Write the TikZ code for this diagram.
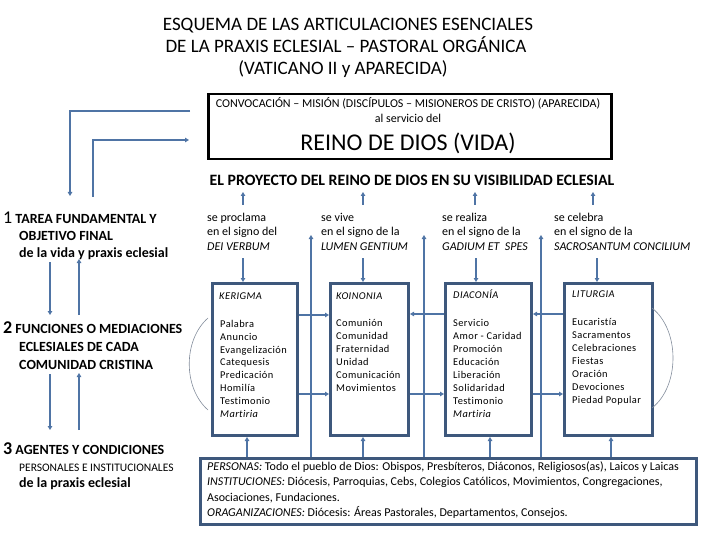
\documentclass[tikz,border=0pt]{standalone}
\usepackage{fontspec}
\setmainfont{Carlito}[Ligatures=CommonOff]
\usetikzlibrary{arrows.meta}
\definecolor{arrowc}{RGB}{79,116,165}
\definecolor{boxc}{RGB}{62,88,124}
\definecolor{arcc}{RGB}{130,140,155}
\tikzset{
  fbox/.style={draw=boxc, line width=3pt, minimum width=#1, minimum height=152pt, anchor=north west, inner sep=0pt},
  tx/.style={anchor=base west, inner sep=0pt, font=\fontsize{12}{13}\selectfont},
  txi/.style={anchor=base west, inner sep=0pt, font=\fontsize{12}{13}\selectfont\itshape},
  it/.style={anchor=base west, inner sep=0pt, font=\fontsize{10.4}{13}\selectfont\addfontfeatures{LetterSpace=4}\itshape},
  item/.style={anchor=base west, inner sep=0pt, font=\fontsize{10.4}{13}\selectfont\addfontfeatures{LetterSpace=4}},
  lab/.style={anchor=base west, inner sep=0pt, font=\fontsize{14}{15}\selectfont\bfseries},
  ttl/.style={anchor=base, inner sep=0pt, font=\fontsize{19}{20}\selectfont},
  btx/.style={anchor=base west, inner sep=0pt, font=\fontsize{12}{13}\selectfont},
  conn/.style={draw=arrowc, line width=1.5pt},
  arr/.style={conn, -{Triangle[length=4pt,width=4.5pt]}},
  arcline/.style={draw=arcc, line width=0.6pt}
}
\begin{document}
\begin{tikzpicture}[x=1pt,y=-1pt]
\useasboundingbox (0,0) rectangle (720,540);
% title
\node[ttl] (t1) at (348,30.5) {ESQUEMA DE LAS ARTICULACIONES ESENCIALES};
\node[ttl] (t2) at (346,52.5) {DE LA PRAXIS ECLESIAL -- PASTORAL ORGÁNICA};
\node[ttl] (t3) at (343,74.5) {(VATICANO II y APARECIDA)};
% top box
\node[draw=black, line width=2.5pt, minimum width=403pt, minimum height=65pt, anchor=north west, inner sep=0pt] (top) at (207,93) {};
\node[anchor=base, inner sep=0pt, font=\fontsize{12}{13}\selectfont] (c1) at (408,108) {CONVOCACIÓN -- MISIÓN (DISCÍPULOS -- MISIONEROS DE CRISTO) (APARECIDA)};
\node[anchor=base, inner sep=0pt, font=\fontsize{12}{13}\selectfont] (c2) at (408,122.5) {al servicio del};
\node[anchor=base, inner sep=0pt, font=\fontsize{24}{26}\selectfont] (c3) at (408,151) {REINO DE DIOS (VIDA)};
% heading
\node[anchor=base, inner sep=0pt, font=\fontsize{15.8}{17}\selectfont\bfseries] (head) at (412,185.5) {EL PROYECTO DEL REINO DE DIOS EN SU VISIBILIDAD ECLESIAL};
% columns
\node[tx] (p1) at (207,221.5) {se proclama};
\node[tx] (p2) at (207,236) {en el signo del};
\node[txi] (p3) at (207,250.5) {DEI VERBUM};
\node[tx] (v1) at (321,221.5) {se vive};
\node[tx] (v2) at (321,236) {en el signo de la};
\node[txi] (v3) at (321,250.5) {LUMEN GENTIUM};
\node[tx] (r1) at (442,221.5) {se realiza};
\node[tx] (r2) at (442,236) {en el signo de la};
\node[txi] (r3) at (442,250.5) {GADIUM ET~ SPES};
\node[tx] (s1) at (554,221.5) {se celebra};
\node[tx] (s2) at (554,236) {en el signo de la};
\node[txi] (s3) at (554,250.5) {SACROSANTUM CONCILIUM};
% up arrows to heading
\foreach \x/\n in {243/a,363/b,475/c,593/d}{
  \coordinate (up\n) at (\x,205);
  \draw[arr] (up\n) -- (\x,192);
}
% boxes
\node[fbox=85pt] (ker) at (211,282) {};
\node[fbox=78pt] (koi) at (329,282) {};
\node[fbox=86pt] (dia) at (444,282) {};
\node[fbox=88pt] (lit) at (563,282) {};
% down arrows into boxes
\draw[arr] (243,258) -- (243,0 |- ker.north);
\draw[arr] (363,258) -- (363,0 |- koi.north);
\draw[arr] (476,258) -- (476,0 |- dia.north);
\draw[arr] (597,258) -- (597,0 |- lit.north);
% box contents
\node[it] (kh) at (219,299) {KERIGMA};
\node[it] (oh) at (336,299) {KOINONIA};
\node[it] (dh) at (453,298) {DIACONÍA};
\node[it] (lh) at (572,297.5) {LITURGIA};
\foreach \t [count=\i] in {Palabra,Anuncio,Evangelización,Catequesis,Predicación,Homilía,Testimonio}
  \node[item] at (220,{327.5+12.8*(\i-1)}) {\t};
\node[it] at (220,417) {Martiria};
\foreach \t [count=\i] in {Comunión,Comunidad,Fraternidad,Unidad,Comunicación,Movimientos}
  \node[item] at (336,{326.5+13*(\i-1)}) {\t};
\foreach \t [count=\i] in {Servicio,Amor - Caridad,Promoción,Educación,Liberación,Solidaridad,Testimonio}
  \node[item] at (453,{326+13*(\i-1)}) {\t};
\node[it] at (453,417) {Martiria};
\foreach \t [count=\i] in {Eucaristía,Sacramentos,Celebraciones,Fiestas,Oración,Devociones,Piedad Popular}
  \node[item] at (572,{325+13*(\i-1)}) {\t};
% arcs
\draw[arcline] (208,318) .. controls (183,340) and (183,388) .. (208,410);
\draw[arcline] (652,308) .. controls (680,330) and (680,386) .. (652,408);
% horizontal arrows between boxes
\draw[arr] (ker.east |- 0,315) -- (koi.west |- 0,315);
\draw[arr] (ker.east |- 0,394) -- (koi.west |- 0,394);
\draw[arr] (dia.west |- 0,314) -- (koi.east |- 0,314);
\draw[arr] (koi.east |- 0,394) -- (dia.west |- 0,394);
\draw[arr] (lit.west |- 0,314) -- (dia.east |- 0,314);
\draw[arr] (dia.east |- 0,394) -- (lit.west |- 0,394);
% bottom box
\node[draw=boxc, line width=3pt, minimum width=496pt, minimum height=66pt, anchor=north west, inner sep=0pt] (bot) at (199,457) {};
\node[btx] (b1) at (207,470.5) {\textit{PERSONAS:} Todo el pueblo de Dios: Obispos, Presbíteros, Diáconos, Religiosos(as), Laicos y Laicas};
\node[btx] (b2) at (207,485.5) {\textit{INSTITUCIONES:} Diócesis, Parroquias, Cebs, Colegios Católicos, Movimientos, Congregaciones,};
\node[btx] (b3) at (207,501) {Asociaciones, Fundaciones.};
\node[btx] (b4) at (207,516) {\textit{ORAGANIZACIONES:} Diócesis: Áreas Pastorales, Departamentos, Consejos.};
% vertical long arrows from bottom box upward
\draw[arr] (311,0 |- bot.north) -- (311,235);
\draw[arr] (424,0 |- bot.north) -- (424,235);
\draw[arr] (541,0 |- bot.north) -- (541,235);
% up arrows from bottom box to boxes
\draw[arr] (247,0 |- bot.north) -- (247,0 |- ker.south);
\draw[arr] (363,0 |- bot.north) -- (363,0 |- koi.south);
\draw[arr] (490,0 |- bot.north) -- (490,0 |- dia.south);
\draw[arr] (611,0 |- bot.north) -- (611,0 |- lit.south);
% left labels
\node[lab] (l1) at (3,223.5) {{\fontsize{18}{18}\selectfont\mdseries 1} TAREA FUNDAMENTAL Y};
\node[lab] (l1b) at (19,240.5) {OBJETIVO FINAL};
\node[lab] (l1c) at (19,257) {de la vida y praxis eclesial};
\node[lab] (l2) at (3,333.5) {{\fontsize{18}{18}\selectfont 2} FUNCIONES O MEDIACIONES};
\node[lab] (l2b) at (19,351) {ECLESIALES DE CADA};
\node[lab] (l2c) at (19,369) {COMUNIDAD CRISTINA};
\node[lab] (l3) at (3,454.5) {{\fontsize{18}{18}\selectfont 3} AGENTES Y CONDICIONES};
\node[anchor=base west, inner sep=0pt, font=\fontsize{11.5}{13}\selectfont] (l3b) at (19,471) {PERSONALES E INSTITUCIONALES};
\node[lab] (l3c) at (19,487) {de la praxis eclesial};
% left connectors
\draw[arr] (190,111) -- (70,111) -- (70,196);
\draw[arr] (93,197) -- (93,140) -- (189,140);
\draw[arr] (50,262) -- (50,315);
\draw[arr] (79,315) -- (79,259);
\draw[arr] (50,374) -- (50,430);
\draw[arr] (79,430) -- (79,373);
\end{tikzpicture}
\end{document}
